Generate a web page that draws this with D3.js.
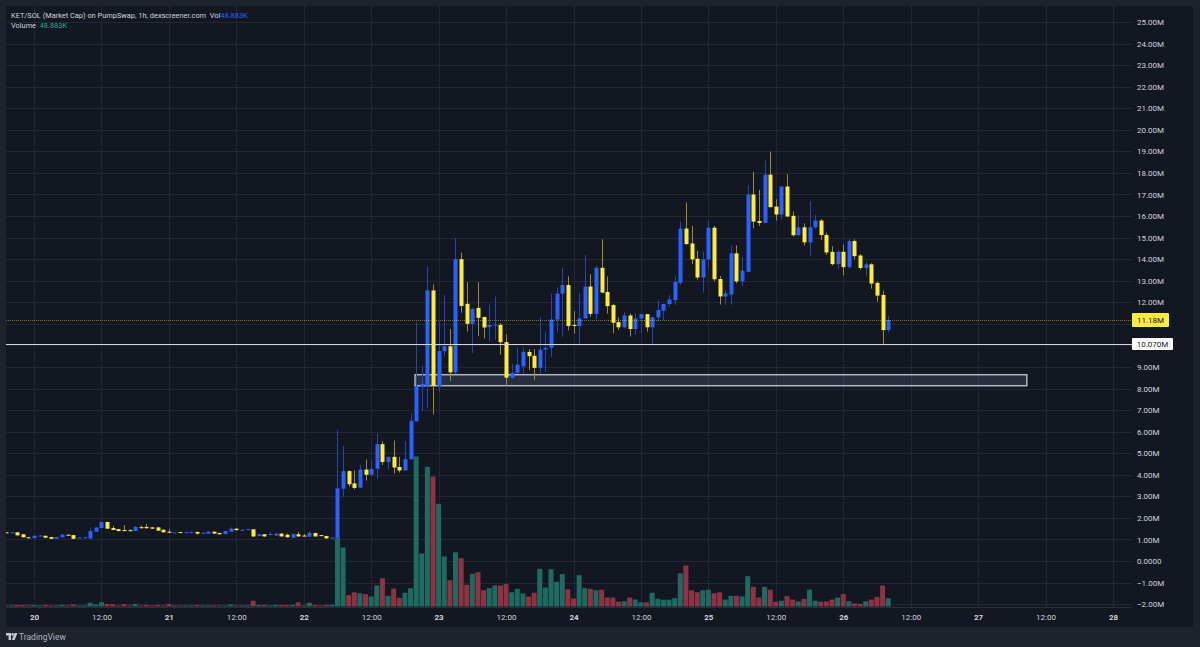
<!DOCTYPE html>
<html>
<head>
<meta charset="utf-8">
<script src="https://cdn.jsdelivr.net/npm/d3@7/dist/d3.min.js"></script>
<style>
  html, body { margin: 0; padding: 0; background: #1e222d; overflow: hidden; }
  svg { display: block; font-family: Roboto, "Liberation Sans", sans-serif; }
</style>
</head>
<body>
<div id="chart"></div>
<script>
// KET/SOL market cap, 1h candles from Jan 19 19:00 (values in millions)
const open = [
  1.33,1.32,1.33,1.24,1.10,1.06,1.16,1.17,1.11,1.03,
  1.10,1.22,1.20,1.07,1.08,1.04,1.36,1.53,1.81,1.53,
  1.48,1.44,1.43,1.39,1.57,1.58,1.56,1.56,1.45,1.36,
  1.32,1.34,1.32,1.32,1.35,1.29,1.27,1.36,1.30,1.25,
  1.36,1.50,1.43,1.46,1.47,1.16,1.24,1.23,1.18,1.27,
  1.22,1.08,1.24,1.18,1.13,1.30,1.20,1.16,1.07,1.08,
  3.35,4.17,3.60,3.40,4.24,4.00,4.28,5.42,4.59,4.83,
  4.36,4.20,4.72,6.48,8.08,8.12,12.55,8.12,9.73,9.96,
  8.75,14.00,11.93,11.00,11.74,11.32,10.85,10.93,10.95,10.15,
  8.50,8.73,9.03,9.70,9.52,8.96,9.81,9.89,11.20,12.40,
  12.80,10.95,10.90,11.25,12.73,11.46,13.60,12.48,11.87,11.08,
  10.84,11.39,10.76,11.25,11.45,10.84,11.30,11.61,11.92,12.10,
  12.90,15.42,14.73,14.02,13.15,13.99,15.46,13.08,12.27,12.36,
  14.27,12.97,13.41,17.00,15.77,15.68,17.92,16.44,16.07,17.37,
  16.01,15.11,15.48,14.78,15.48,15.79,15.12,14.34,13.77,14.34,
  13.63,14.84,14.17,13.59,13.76,12.90,12.34,10.71
];
const high = [
  1.34,1.34,1.34,1.25,1.11,1.18,1.20,1.18,1.12,1.12,
  1.27,1.23,1.21,1.10,1.11,1.55,1.57,1.83,1.82,1.62,
  1.49,1.67,1.47,1.62,1.65,1.72,1.58,1.57,1.46,1.47,
  1.34,1.35,1.35,1.37,1.36,1.32,1.37,1.37,1.31,1.40,
  1.56,1.51,1.46,1.49,1.48,1.27,1.25,1.35,1.28,1.28,
  1.27,1.26,1.35,1.25,1.39,1.31,1.21,1.17,1.10,6.07,
  5.33,4.20,4.20,4.46,4.70,4.65,5.92,5.56,4.83,5.59,
  4.83,5.56,6.85,11.07,9.06,13.68,12.83,11.13,12.33,10.76,
  14.98,14.30,12.93,11.74,12.93,11.32,11.89,12.27,11.04,10.50,
  9.15,9.91,9.91,9.83,9.83,11.30,10.60,12.40,12.70,13.60,
  13.20,11.60,12.40,14.20,13.30,13.70,14.92,13.20,11.92,11.30,
  11.56,11.48,11.48,11.45,11.45,11.30,12.10,11.92,12.33,13.20,
  15.76,16.63,15.54,14.38,14.34,15.77,15.54,13.22,12.55,14.61,
  14.64,14.09,17.44,18.04,17.21,18.57,18.99,16.78,17.37,17.94,
  16.21,16.04,15.66,16.70,16.05,15.85,15.23,14.60,14.42,14.68,
  14.92,14.92,14.23,13.88,13.81,12.96,12.54,11.36
];
const low = [
  1.30,1.31,1.18,1.09,1.04,1.05,1.15,1.07,1.02,1.02,
  1.09,1.19,1.02,1.06,1.07,1.03,1.35,1.52,1.49,1.43,
  1.38,1.38,1.37,1.38,1.50,1.51,1.49,1.40,1.32,1.30,
  1.31,1.31,1.31,1.27,1.22,1.28,1.26,1.26,1.23,1.24,
  1.35,1.42,1.42,1.45,1.12,1.15,1.13,1.22,1.17,1.13,
  1.09,1.07,1.13,1.15,1.12,1.13,1.17,1.04,1.06,1.05,
  2.98,3.45,3.33,3.38,3.73,3.97,3.82,4.45,4.25,4.06,
  4.10,4.20,4.70,6.45,6.95,7.08,6.80,7.85,9.48,8.35,
  8.67,11.52,10.65,9.64,10.43,10.32,10.20,10.25,9.57,8.13,
  8.45,8.68,8.70,8.86,8.40,8.70,8.77,9.47,10.60,10.40,
  10.70,10.55,10.06,11.25,11.33,11.20,12.42,11.48,10.56,10.72,
  10.79,10.41,10.49,10.56,10.64,10.02,11.10,11.18,11.80,11.87,
  12.80,14.66,13.77,13.06,12.45,13.56,12.97,11.89,11.89,11.89,
  12.88,12.75,13.38,15.43,15.54,15.68,16.41,15.79,15.85,15.94,
  15.05,15.08,14.63,14.13,15.39,14.89,14.19,13.71,13.56,13.25,
  13.57,13.99,13.52,13.20,12.63,12.03,10.07,10.60
];
const close = [
  1.31,1.33,1.19,1.10,1.08,1.17,1.18,1.08,1.03,1.11,
  1.22,1.20,1.03,1.09,1.10,1.39,1.55,1.81,1.50,1.44,
  1.39,1.39,1.39,1.58,1.55,1.52,1.50,1.41,1.33,1.31,
  1.33,1.32,1.34,1.34,1.27,1.31,1.36,1.27,1.24,1.39,
  1.50,1.43,1.45,1.48,1.14,1.24,1.14,1.25,1.27,1.14,
  1.10,1.25,1.14,1.16,1.30,1.14,1.18,1.05,1.09,3.37,
  4.17,3.56,3.39,4.24,4.00,4.27,5.42,4.59,4.83,4.34,
  4.20,4.72,6.50,8.12,8.22,12.55,8.12,9.74,9.96,8.75,
  14.00,11.83,11.00,11.69,11.28,10.83,10.95,10.97,10.15,8.50,
  8.73,9.10,9.70,9.50,8.96,9.80,9.89,11.20,12.40,12.80,
  10.90,10.90,11.25,12.73,11.46,13.60,12.45,11.82,11.05,10.84,
  11.39,10.76,11.25,11.45,10.84,11.30,11.64,11.92,12.13,12.94,
  15.42,14.70,13.99,13.15,13.99,15.46,13.07,12.27,12.41,14.27,
  12.97,13.47,17.00,15.74,15.68,17.92,16.41,16.07,17.37,15.98,
  15.11,15.48,14.78,15.48,15.79,15.12,14.31,13.77,14.34,13.63,
  14.84,14.14,13.59,13.76,12.87,12.31,10.71,11.18
];
// volume in thousands
const volume = [
  6,6,9,9,6,9,6,9,6,6,
  9,6,12,6,6,22,12,25,15,14,
  6,14,6,15,6,9,6,9,6,15,
  6,6,6,6,9,6,6,6,6,6,
  12,6,6,6,34,9,9,6,9,9,
  9,9,25,6,22,9,6,9,10,407,
  348,67,84,78,73,59,124,167,63,106,
  51,81,108,885,313,824,767,606,295,155,
  320,285,128,193,202,96,108,124,124,132,
  84,104,77,59,81,222,112,220,146,191,
  102,47,185,108,104,96,99,53,53,28,
  31,53,41,25,24,81,45,40,40,49,
  195,242,96,84,96,99,78,84,41,63,
  63,59,179,116,53,116,99,28,34,61,
  41,30,45,99,34,28,30,41,53,73,
  31,18,16,31,41,57,124,48.883
];
const priceTicks = d3.range(-2, 26);
const firstCandle = new Date(2025, 0, 19, 19);
const axisStart = new Date(2025, 0, 20);
const axisEnd = new Date(2025, 0, 28);
const lastPrice = 11.18;
const markLine = 10.07;
const zone = { from: new Date(2025, 0, 22, 19, 48), to: new Date(2025, 0, 27, 8, 40), top: 8.64, bottom: 8.13 };

// layout
const W = 1200, H = 647;
const pane = { left: 6, top: 6, right: 1132, bottom: 607 };
const frameRight = 1193, frameBottom = 627;

const blue = "#2962ff", yellow = "#ffeb3b";
const blueWick = "#2446b0", yellowWick = "#9b8f24";
const volUp = "#1f6b61", volDown = "#8e3343";

const svg = d3.select("#chart").append("svg")
  .attr("width", W).attr("height", H);

svg.append("rect").attr("width", W).attr("height", H).attr("fill", "#1e222d");
svg.append("rect")
  .attr("x", pane.left).attr("y", pane.top)
  .attr("width", frameRight - pane.left).attr("height", frameBottom - pane.top)
  .attr("fill", "#131722");

const defs = svg.append("defs");
defs.append("clipPath").attr("id", "paneClip").append("rect")
  .attr("x", pane.left).attr("y", pane.top)
  .attr("width", pane.right - pane.left).attr("height", pane.bottom - pane.top);
defs.append("clipPath").attr("id", "axisClip").append("rect")
  .attr("x", pane.right).attr("y", pane.top)
  .attr("width", frameRight - pane.right).attr("height", pane.bottom - pane.top);

// scales
const x = d3.scaleTime().domain([axisStart, axisEnd]).range([34, 1113]);
const y = d3.scaleLinear().domain([0, 25]).range([561, 22]);
const yVol = d3.scaleLinear().domain([0, d3.max(volume)]).range([606.5, 456.5]);
const bodyW = 4;

const candles = open.map((o, i) => ({
  t: d3.timeHour.offset(firstCandle, i),
  o, h: high[i], l: low[i], c: close[i], v: volume[i]
}));
const up = d => d.c >= d.o;

// grid
const timeTicks = d3.timeHour.every(12).range(axisStart, d3.timeHour.offset(axisEnd, 1));
const grid = svg.append("g").attr("stroke", "#232733").attr("stroke-width", 1);
grid.selectAll(".hg").data(priceTicks).enter().append("line")
  .attr("x1", pane.left).attr("x2", pane.right)
  .attr("y1", d => Math.round(y(d)) + 0.5).attr("y2", d => Math.round(y(d)) + 0.5);
grid.selectAll(".vg").data(timeTicks).enter().append("line")
  .attr("x1", d => Math.round(x(d)) + 0.5).attr("x2", d => Math.round(x(d)) + 0.5)
  .attr("y1", pane.top).attr("y2", pane.bottom);

const plot = svg.append("g").attr("clip-path", "url(#paneClip)");

// volume
plot.selectAll(".vol").data(candles).enter().append("rect")
  .attr("x", d => x(d.t) - bodyW / 2 - 0.5)
  .attr("y", d => yVol(d.v))
  .attr("width", bodyW + 1)
  .attr("height", d => Math.max(1, yVol(0) - yVol(d.v)))
  .attr("fill", d => up(d) ? volUp : volDown);

// zone drawing
plot.append("rect")
  .attr("x", x(zone.from)).attr("y", y(zone.top))
  .attr("width", x(zone.to) - x(zone.from))
  .attr("height", y(zone.bottom) - y(zone.top))
  .attr("fill", "rgba(120,140,180,0.2)")
  .attr("stroke", "#b2b5be").attr("stroke-width", 1.5);

// candles
plot.selectAll(".wick").data(candles).enter().append("line")
  .attr("x1", d => Math.round(x(d.t)) + 0.5).attr("x2", d => Math.round(x(d.t)) + 0.5)
  .attr("y1", d => y(d.h)).attr("y2", d => y(d.l))
  .attr("stroke", d => up(d) ? blueWick : yellowWick).attr("stroke-width", 1);
plot.selectAll(".body").data(candles).enter().append("rect")
  .attr("x", d => Math.round(x(d.t)) + 0.5 - bodyW / 2)
  .attr("y", d => y(Math.max(d.o, d.c)))
  .attr("width", bodyW)
  .attr("height", d => Math.max(1, Math.abs(y(d.o) - y(d.c))))
  .attr("fill", d => up(d) ? blue : yellow);

// horizontal lines
plot.append("line")
  .attr("x1", pane.left).attr("x2", pane.right)
  .attr("y1", Math.round(y(markLine)) + 0.5).attr("y2", Math.round(y(markLine)) + 0.5)
  .attr("stroke", "#d1d4dc").attr("stroke-width", 1);
plot.append("line")
  .attr("x1", pane.left).attr("x2", pane.right)
  .attr("y1", Math.round(y(lastPrice)) + 0.5).attr("y2", Math.round(y(lastPrice)) + 0.5)
  .attr("stroke", yellow).attr("stroke-opacity", 0.45)
  .attr("stroke-dasharray", "1 1");

// separator between pane and time axis
svg.append("line")
  .attr("x1", pane.left).attr("x2", pane.right)
  .attr("y1", pane.bottom + 0.5).attr("y2", pane.bottom + 0.5)
  .attr("stroke", "#2a2e39");

// price labels on the right
const tags = [
  { v: lastPrice, label: "11.18M", fill: yellow, w: 37, h: 14 },
  { v: markLine, label: "10.070M", fill: "#ffffff", w: 41, h: 12 }
];
// ticks hidden behind the tags are not labelled
const labelTicks = priceTicks.filter(t => tags.every(g => Math.abs(y(t) - y(g.v)) > 11));

const fmtPrice = v => v === 0 ? "0.0000" : d3.format(".2f")(v) + "M";
const yAxis = svg.append("g")
  .attr("clip-path", "url(#axisClip)")
  .append("g")
  .attr("transform", `translate(${pane.right},0)`)
  .call(d3.axisRight(y).tickValues(labelTicks).tickSize(0).tickPadding(5).tickFormat(fmtPrice));
yAxis.select(".domain").remove();
yAxis.selectAll("text")
  .attr("fill", "#d1d4dc").attr("font-size", 8).attr("font-family", "Roboto, sans-serif");

const tag = svg.selectAll(".tag").data(tags).enter().append("g")
  .attr("transform", d => `translate(${pane.right},${y(d.v)})`);
tag.append("rect")
  .attr("x", 0).attr("y", d => -d.h / 2).attr("width", d => d.w).attr("height", d => d.h)
  .attr("rx", 1).attr("fill", d => d.fill);
tag.append("text")
  .attr("x", d => d.w / 2).attr("dy", "0.35em").attr("text-anchor", "middle")
  .attr("font-size", 8).attr("fill", "#131722")
  .text(d => d.label);

// time axis
const xAxis = svg.append("g")
  .attr("transform", `translate(0,${pane.bottom})`)
  .call(d3.axisBottom(x).tickValues(timeTicks).tickSize(0).tickPadding(7)
    .tickFormat(d => d.getHours() === 0 ? d3.timeFormat("%-d")(d) : d3.timeFormat("%H:%M")(d)));
xAxis.select(".domain").remove();
xAxis.selectAll("text")
  .attr("fill", "#d1d4dc").attr("font-size", 8).attr("font-family", "Roboto, sans-serif")
  .attr("font-weight", d => d.getHours() === 0 ? 700 : 400);

// legend
const legend = svg.append("g").attr("font-size", 7.4).attr("fill", "#d1d4dc");
const l1 = legend.append("text").attr("x", 11).attr("y", 17.5);
l1.append("tspan").text("KET/SOL (Market Cap) on PumpSwap, 1h, dexscreener.com\u00a0\u00a0Vol");
l1.append("tspan").attr("fill", blue).text("48.883K");
const l2 = legend.append("text").attr("x", 11).attr("y", 28);
l2.append("tspan").text("Volume\u00a0\u00a0");
l2.append("tspan").attr("fill", "#22ab94").text("48.883K");

// TradingView mark
const logo = svg.append("g").attr("transform", "translate(6,633)").attr("fill", "#c8cad0");
logo.append("path").attr("d", "M0 0h5v7h-2.4v-4.6h-2.6z");
logo.append("circle").attr("cx", 6.6).attr("cy", 1.4).attr("r", 1.3);
logo.append("path").attr("d", "M8.6 0h2.8l-2.8 7h-2.8z");
svg.append("text").attr("x", 19).attr("y", 640).attr("font-size", 8.5)
  .attr("fill", "#b2b5be").text("TradingView");
</script>
</body>
</html>
